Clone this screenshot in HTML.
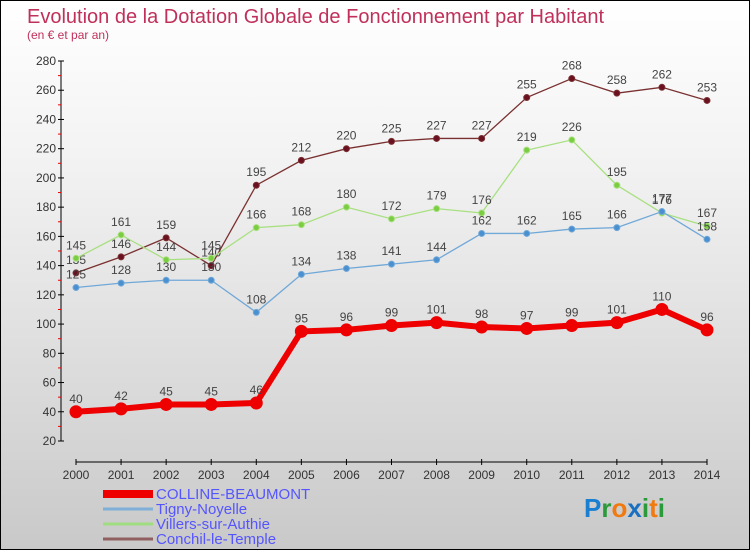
<!DOCTYPE html>
<html><head><meta charset="utf-8"><style>
body{margin:0}
#c{width:750px;height:550px;position:relative;box-sizing:border-box;border:1px solid #000;background:linear-gradient(#fff,#f2f2f2 30%,#c9c9c9);font-family:"Liberation Sans",sans-serif;overflow:hidden}
</style></head><body>
<div id="c">
<svg width="750" height="550" id="s" style="position:absolute;left:0;top:0">
<text x="26" y="22" font-size="20" fill="#c0305a">Evolution de la Dotation Globale de Fonctionnement par Habitant</text>
<text x="26" y="38" font-size="12" fill="#c0305a">(en € et par an)</text>
</svg>
</div>
<script>
const years=[2000,2001,2002,2003,2004,2005,2006,2007,2008,2009,2010,2011,2012,2013,2014];
const yTicks=[20,40,60,80,100,120,140,160,180,200,220,240,260,280];
const colline=[40,42,45,45,46,95,96,99,101,98,97,99,101,110,96];
const tigny=[125,128,130,130,108,134,138,141,144,162,162,165,166,177,158];
const villers=[145,161,144,145,166,168,180,172,179,176,219,226,195,176,167];
const conchil=[135,146,159,140,195,212,220,225,227,227,255,268,258,262,253];
const names=["COLLINE-BEAUMONT","Tigny-Noyelle","Villers-sur-Authie","Conchil-le-Temple"];

const s=document.getElementById('s'),NS='http://www.w3.org/2000/svg';
function X(i){return 75+i*(706-75)/14}
function Y(v){return 440-(v-20)*380/260}
function el(t,a,p){const e=document.createElementNS(NS,t);for(const k in a)e.setAttribute(k,a[k]);(p||s).appendChild(e);return e}
let ax=el('line',{x1:60,y1:Y(280),x2:60,y2:Y(20),stroke:'#000'});


const yMax=yTicks[yTicks.length-1];
yTicks.forEach(v=>{
 el('line',{x1:57,x2:63,y1:Y(v),y2:Y(v),stroke:'#000'});
 if(v<yMax) el('line',{x1:57,x2:60,y1:Y(v+10),y2:Y(v+10),stroke:'#e00'});
 const t=el('text',{x:55,y:Y(v)+4,'text-anchor':'end','font-size':12,fill:'#333'});t.textContent=v;
 
 
});
let xa=el('line',{x1:75,y1:461,x2:706,y2:461,stroke:'#000'});


years.forEach((y,i)=>{
 el('line',{x1:X(i),x2:X(i),y1:458,y2:464,stroke:'#000'});
 const t=el('text',{x:X(i),y:478,'text-anchor':'middle','font-size':12,fill:'#333'});t.textContent=y;
 
 
});
function series(d,col,dot,w,r,name){
 const g=el('g',{});
 
 
 el('polyline',{points:d.map((v,i)=>X(i)+','+Y(v)).join(' '),fill:'none',stroke:col,'stroke-width':w},g);
 d.forEach((v,i)=>{
  const c=el('circle',{cx:X(i),cy:Y(v),r:r,fill:dot,stroke:col},g);
  
  
  const t=el('text',{x:X(i),y:Y(v)-9,'text-anchor':'middle','font-size':12,fill:'#444'},g);t.textContent=v;
  
  
 });
}
series(conchil,'#7a3030','#6a1020',1.3,3,'conchil-series');
series(villers,'#a8e080','#7acc40',1.3,3,'villers-series');
series(tigny,'#70a8d8','#4a90d0',1.3,3,'tigny-series');
series(colline,'#ee0000','#ee0000',6,6,'colline-series');
const lc=['#ee0000','#80b0d8','#a0dc80','#906060'],lw=[8,3,3,3],ly=[492,507,522,537];
names.forEach((n,i)=>{
 const g=el('g',{});
 
 
 el('line',{x1:102,x2:152,y1:ly[i]+1,y2:ly[i]+1,stroke:lc[i],'stroke-width':lw[i]},g);
 const t=el('text',{x:155,y:ly[i]+6,'font-size':15,fill:'#5555ff'},g);t.textContent=n;
});
const lg=el('text',{x:583,y:516,'font-size':26,'font-weight':'bold'});


[['P','#1a7fd0'],['r','#2a9a3a'],['o','#f07a10'],['x','#1a70c0'],['i','#2a9a3a'],['t','#f07a10'],['i','#2a9a3a']].forEach(([c,f])=>{const ts=el('tspan',{fill:f},lg);ts.textContent=c;});
</script>
</body></html>
